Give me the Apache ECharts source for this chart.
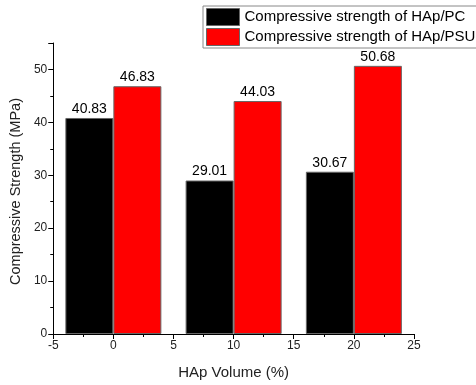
<!DOCTYPE html>
<html><head><meta charset="utf-8">
<script src="https://cdn.jsdelivr.net/npm/echarts@6/dist/echarts.min.js"></script>
<style>html,body{margin:0;padding:0;background:#fff}#c{width:476px;height:385px}</style>
</head><body><div id="c"></div>
<script>
const xPositions = [0, 10, 20];
const pcValues = [40.83, 29.01, 30.67];
const psuValues = [46.83, 44.03, 50.68];
const seriesNames = ['Compressive strength of HAp/PC', 'Compressive strength of HAp/PSU'];
const xTicks = [-5, 0, 5, 10, 15, 20, 25];
const yTicks = [0, 10, 20, 30, 40, 50];

const chart = echarts.init(document.getElementById('c'), null, {renderer: 'canvas'});
const font = 'Liberation Sans, Arial, sans-serif';
const mk = (vals) => xPositions.map((x, i) => [x, vals[i]]);
chart.setOption({
  animation: false,
  textStyle: {fontFamily: font},
  grid: {left: 52, right: 62, top: 43, bottom: 51},
  legend: {
    orient: 'vertical', left: 203, top: 6,
    icon: 'rect',
    itemWidth: 33, itemHeight: 17, itemGap: 2,
    padding: [2, 3, 2, 3],
    borderColor: '#888', borderWidth: 1,
    itemStyle: {borderColor: '#666', borderWidth: 1},
    textStyle: {fontSize: 15, color: '#000', fontFamily: font},
    data: seriesNames
  },
  xAxis: {
    type: 'value', min: -5, max: 25, interval: 5,
    name: 'HAp Volume (%)', nameLocation: 'middle', nameGap: 31,
    nameTextStyle: {fontSize: 15, color: '#222'},
    axisLine: {show: true, onZero: false, lineStyle: {color: '#000', width: 1}},
    axisTick: {show: true, inside: false, length: 5, lineStyle: {color: '#000'}},
    minorTick: {show: true, splitNumber: 2, length: 3, lineStyle: {color: '#000'}},
    axisLabel: {fontSize: 12, color: '#222', margin: 6},
    splitLine: {show: false}
  },
  yAxis: {
    type: 'value', min: 0, max: 55, interval: 10,
    name: 'Compressive Strength (MPa)', nameLocation: 'middle', nameGap: 28,
    nameTextStyle: {fontSize: 14.5, color: '#222', padding: [0, 0, 0, -6]},
    axisLine: {show: true, onZero: false, lineStyle: {color: '#000', width: 1}},
    axisTick: {show: true, length: 5, lineStyle: {color: '#000'}},
    minorTick: {show: true, splitNumber: 2, length: 3, lineStyle: {color: '#000'}},
    axisLabel: {fontSize: 12, color: '#222', margin: 6,
      formatter: v => yTicks.includes(v) ? String(v) : ''},
    splitLine: {show: false}
  },
  series: [
    {name: seriesNames[0], type: 'bar', data: mk(pcValues), barWidth: 48, barGap: '0%',
     itemStyle: {color: '#000000', borderColor: '#666', borderWidth: 1},
     label: {show: true, position: 'top', distance: 2, fontSize: 14, color: '#000',
       formatter: p => p.value[1].toFixed(2)}},
    {name: seriesNames[1], type: 'bar', data: mk(psuValues), barWidth: 48, barGap: '0%',
     itemStyle: {color: '#ff0000', borderColor: '#666', borderWidth: 1},
     label: {show: true, position: 'top', distance: 2, fontSize: 14, color: '#000',
       formatter: p => p.value[1].toFixed(2)}}
  ]
});
</script></body></html>
